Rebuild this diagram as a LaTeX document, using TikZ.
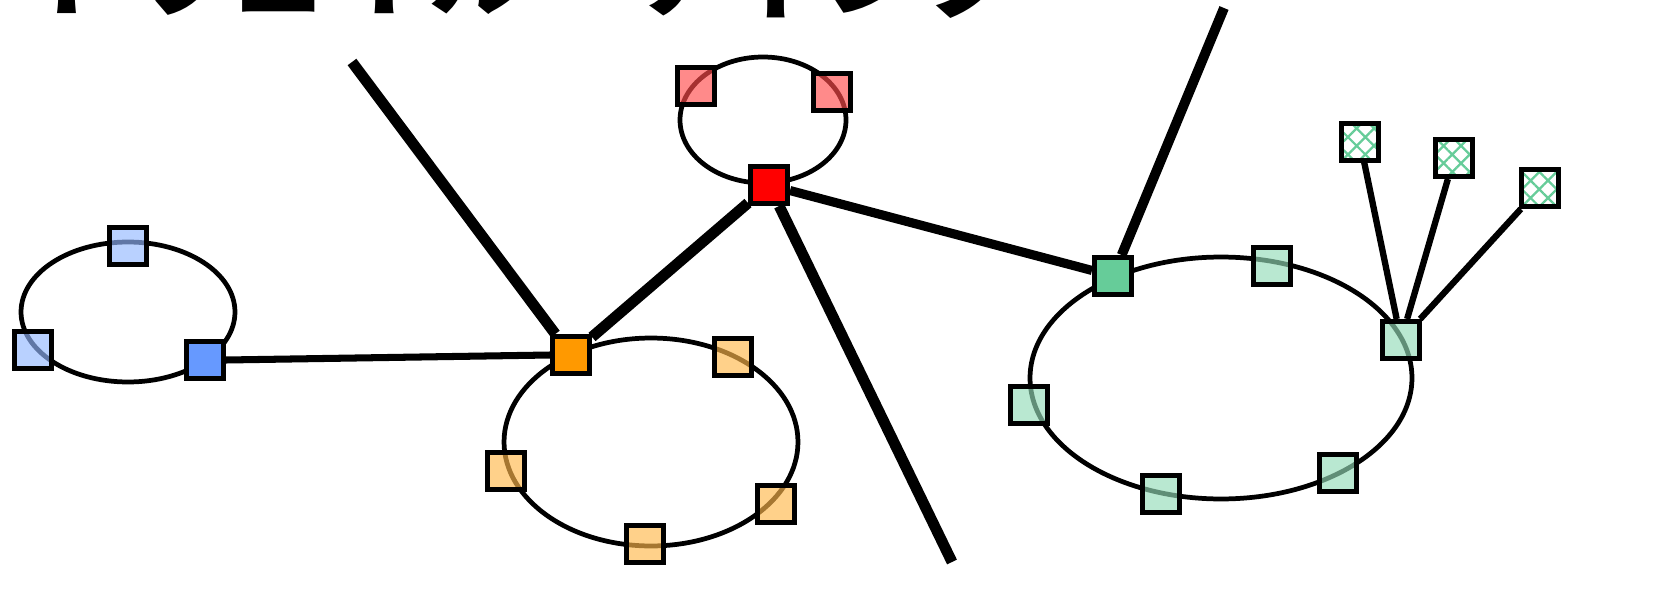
\documentclass[tikz,border=0pt]{standalone}
\usepackage{fontspec}
\usepackage{tikz}
\usetikzlibrary{patterns.meta}
\newfontfamily\jpfont{Noto Sans CJK JP}
\definecolor{redA}{HTML}{FF0000}
\definecolor{blueA}{HTML}{6699FF}
\definecolor{orangeA}{HTML}{FF9900}
\definecolor{greenA}{HTML}{66CC99}

\begin{document}
\begin{tikzpicture}[x=0.02cm, y=-0.02cm]
		\tikzstyle{Router} = [rectangle, minimum size=0.74cm, inner sep=0pt, draw=black, line width=2.85pt]
		\tikzstyle{Pat} = [Router, fill opacity=0.65]
		\tikzstyle{Leaf} = [Router, pattern={Hatch[angle=45,distance=7pt,line width=1.3pt]}, pattern color=greenA]
		\tikzstyle{Ring} = [draw=black, line width=2.7pt]
		\tikzstyle{Link} = [draw=black, line width=6.2pt]
		
		\useasboundingbox (0,0) rectangle (1653,598);
		% title, only its lower edge is inside the picture
		\node (title) [anchor=base west, inner sep=0pt, font=\jpfont\bfseries\fontsize{57pt}{60pt}\selectfont] at (-172,9) {ゲートウェイルーティング};
		
		\draw [Ring] (763,120) ellipse [x radius=1.66cm, y radius=1.26cm];
		\draw [Ring] (128,312) ellipse [x radius=2.14cm, y radius=1.40cm];
		\draw [Ring] (651,442) ellipse [x radius=2.94cm, y radius=2.08cm];
		\draw [Ring] (1221,378) ellipse [x radius=3.82cm, y radius=2.42cm];
		
		\node (r0) [Router, fill=redA] at (769,185) {};
		\node (r1) [Pat, fill=redA!70] at (696,86) {};
		\node (r2) [Pat, fill=redA!70] at (832,92) {};
		
		\node (b0) [Router, fill=blueA] at (205,360) {};
		\node (b1) [Pat, fill=blueA!70] at (128,246) {};
		\node (b2) [Pat, fill=blueA!70] at (33,350) {};
		
		\node (o0) [Router, fill=orangeA] at (571,355) {};
		\node (o1) [Pat, fill=orangeA!70] at (733,357) {};
		\node (o2) [Pat, fill=orangeA!70] at (506,471) {};
		\node (o3) [Pat, fill=orangeA!70] at (776,504) {};
		\node (o4) [Pat, fill=orangeA!70] at (645,544) {};
		
		\node (g0) [Router, fill=greenA] at (1113,276) {};
		\node (g1) [Pat, fill=greenA!70] at (1272,266) {};
		\node (g2) [Pat, fill=greenA!70] at (1401,340) {};
		\node (g3) [Pat, fill=greenA!70] at (1029,405) {};
		\node (g4) [Pat, fill=greenA!70] at (1338,473) {};
		\node (g5) [Pat, fill=greenA!70] at (1161,494) {};
		
		\node (h1) [Leaf] at (1360,142) {};
		\node (h2) [Leaf] at (1454,158) {};
		\node (h3) [Leaf] at (1540,188) {};
		
		\coordinate (nw) at (352,62);
		\coordinate (north) at (1224,8);
		\coordinate (south) at (952,562);
		
		\draw [Link] (nw) -- (o0);
		\draw [Link] (r0) -- (o0);
		\draw [Link] (r0) -- (south);
		\draw [Link, line width=5.2pt] (r0) -- (g0);
		\draw [Link, line width=5.6pt] (g0) -- (north);
		\draw [Link, line width=4pt] (b0.east) -- (o0.west);
		\draw [Link, line width=3.6pt] (h1) -- (g2);
		\draw [Link, line width=3.6pt] (h2) -- (g2);
		\draw [Link, line width=3.6pt] (h3) -- (g2);
\end{tikzpicture}
\end{document}
